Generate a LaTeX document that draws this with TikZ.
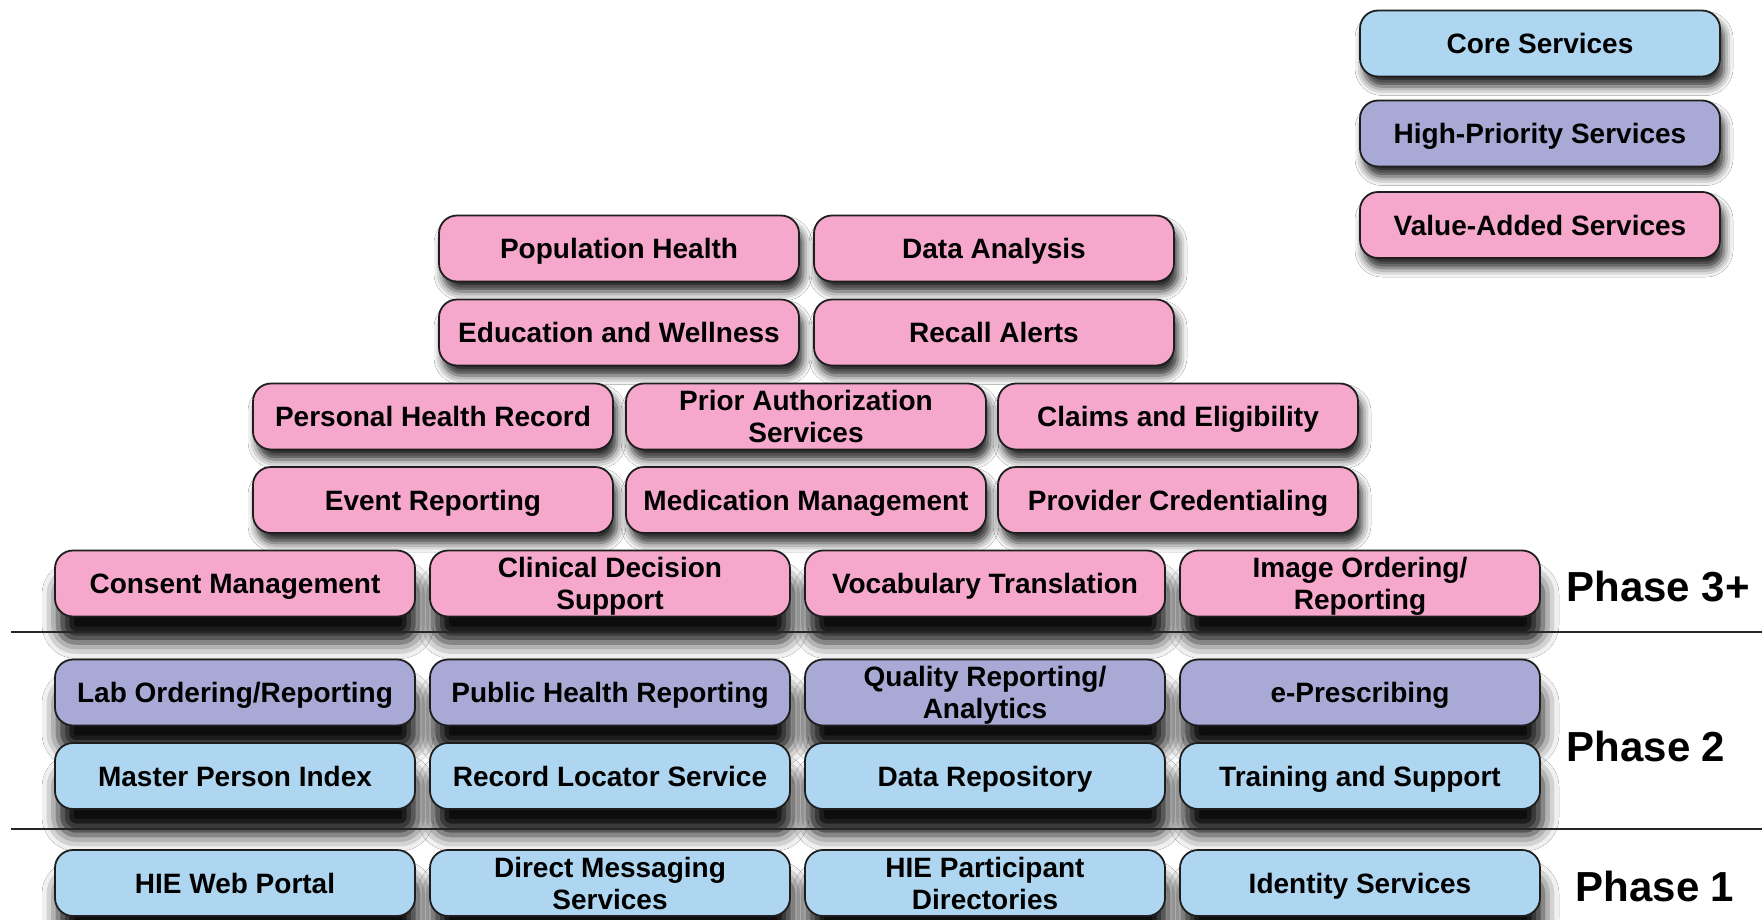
\documentclass[tikz,border=0pt]{standalone}
\usepackage{fontspec}
\setmainfont{Liberation Sans}
\usetikzlibrary{shadows.blur}
\definecolor{coreblue}{RGB}{174,214,241}
\definecolor{hipurple}{RGB}{168,169,213}
\definecolor{valpink}{RGB}{245,168,204}
\definecolor{edgecol}{RGB}{30,30,30}
\tikzset{
 svc/.style={draw=edgecol, line width=1.8pt, rounded corners=18pt, minimum width=360pt, minimum height=66pt, inner sep=0pt, text height=20pt, text depth=0pt, align=center, font=\fontsize{28}{32}\selectfont\bfseries, text=black},
 two/.style={text height=52pt},
 core/.style={svc, fill=coreblue},
 hp/.style={svc, fill=hipurple},
 va/.style={svc, fill=valpink},
 shsmall/.style={blur shadow={shadow xshift=4pt, shadow yshift=-10pt, shadow blur radius=9pt, shadow opacity=85}},
 shbig/.style={blur shadow={shadow xshift=3pt, shadow yshift=-26pt, shadow blur radius=16pt, shadow opacity=95}},
 phase/.style={font=\fontsize{42}{48}\selectfont\bfseries, inner sep=0pt},
 sepline/.style={line width=2pt, draw=black!85},
}
\begin{document}
\begin{tikzpicture}[x=1pt,y=-1pt]
\useasboundingbox[fill=white] (0,0) rectangle (1762,919);

% legend
\node[core, shsmall] (lcore) at (1540,43.5) {Core Services};
\node[hp, shsmall] (lhp) at (1540,133.5) {High-Priority Services};
\node[va, shsmall] (lva) at (1540,225) {Value-Added Services};

% top pyramid rows
\node[va, shsmall] (pop) at (619,248.5) {Population Health};
\node[va, shsmall] (data) at (994,248.5) {Data Analysis};
\node[va, shsmall] (edu) at (619,332.5) {Education and Wellness};
\node[va, shsmall] (recall) at (994,332.5) {Recall Alerts};

\node[va, shsmall] (phr) at (433,416.5) {Personal Health Record};
\node[va, two, shsmall] (prior) at (806,416.5) {Prior Authorization\\Services};
\node[va, shsmall] (claims) at (1178,416.5) {Claims and Eligibility};

\node[va, shsmall] (event) at (433,500) {Event Reporting};
\node[va, shsmall] (med) at (806,500) {Medication Management};
\node[va, shsmall] (prov) at (1178,500) {Provider Credentialing};

% Phase 3+ base row
\node[va, shbig] (consent) at (235,583.5) {Consent Management};
\node[va, two, shbig] (cds) at (610,583.5) {Clinical Decision\\Support};
\node[va, shbig] (vocab) at (985,583.5) {Vocabulary Translation};
\node[va, two, shbig] (image) at (1360,583.5) {Image Ordering/\\Reporting};

% Phase 2
\node[hp, shbig] (lab) at (235,692.5) {Lab Ordering/Reporting};
\node[hp, shbig] (pub) at (610,692.5) {Public Health Reporting};
\node[hp, two, shbig] (qual) at (985,692.5) {Quality Reporting/\\Analytics};
\node[hp, shbig] (erx) at (1360,692.5) {e-Prescribing};

\node[core, shbig] (mpi) at (235,776) {Master Person Index};
\node[core, shbig] (rls) at (610,776) {Record Locator Service};
\node[core, shbig] (repo) at (985,776) {Data Repository};
\node[core, shbig] (train) at (1360,776) {Training and Support};

% Phase 1
\node[core, shbig] (portal) at (235,883) {HIE Web Portal};
\node[core, two, shbig] (direct) at (610,883) {Direct Messaging\\Services};
\node[core, two, shbig] (dirs) at (985,883) {HIE Participant\\Directories};
\node[core, shbig] (ident) at (1360,883) {Identity Services};

% separators
\coordinate (s1a) at (11,632);
\coordinate (s1b) at (1762,632);
\coordinate (s2a) at (11,829);
\coordinate (s2b) at (1762,829);
\draw[sepline] (s1a) -- (s1b);
\draw[sepline] (s2a) -- (s2b);

% phase labels
\node[phase] (p3) at (1658,587) {Phase 3+};
\node[phase] (p2) at (1646,746) {Phase 2};
\node[phase] (p1) at (1655,886) {Phase 1};
\end{tikzpicture}
\end{document}
